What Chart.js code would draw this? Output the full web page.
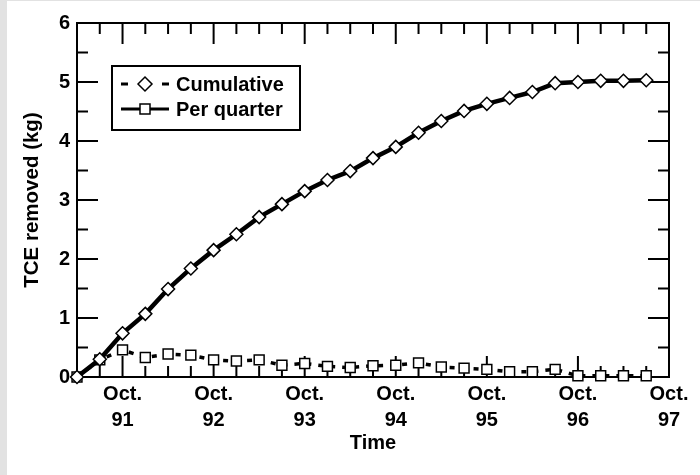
<!DOCTYPE html>
<html>
<head>
<meta charset="utf-8">
<script src="https://cdn.jsdelivr.net/npm/chart.js@4.4.0/dist/chart.umd.min.js"></script>
<style>
  html, body { margin: 0; padding: 0; background: #fff; }
  #wrap { width: 700px; height: 475px; }
</style>
</head>
<body>
<div id="wrap"><canvas id="tceChart" width="700" height="475"></canvas></div>
<script>
// quarters from Apr 1991 to Oct 1997 (x axis runs over all of them)
var quarters = ['Apr 91', 'Jul 91', 'Oct 91', 'Jan 92', 'Apr 92', 'Jul 92', 'Oct 92', 'Jan 93', 'Apr 93',
  'Jul 93', 'Oct 93', 'Jan 94', 'Apr 94', 'Jul 94', 'Oct 94', 'Jan 95', 'Apr 95', 'Jul 95', 'Oct 95',
  'Jan 96', 'Apr 96', 'Jul 96', 'Oct 96', 'Jan 97', 'Apr 97', 'Jul 97', 'Oct 97'];

var cumulative = [0, 0.30, 0.74, 1.07, 1.49, 1.84, 2.15, 2.42, 2.71, 2.93, 3.15, 3.34, 3.49,
  3.71, 3.90, 4.14, 4.34, 4.51, 4.63, 4.73, 4.83, 4.98, 5.00, 5.02, 5.02, 5.03];

var perQuarter = [0, 0.29, 0.46, 0.33, 0.39, 0.37, 0.29, 0.27, 0.29, 0.20, 0.23, 0.18, 0.16,
  0.19, 0.20, 0.24, 0.17, 0.15, 0.13, 0.09, 0.09, 0.13, 0.02, 0.02, 0.02, 0.02];

var yMin = 0, yMax = 6, yMinorStep = 0.5;
var legendNames = ['Cumulative', 'Per quarter'];

var FONT = 'Liberation Sans, Arial, Helvetica, sans-serif';

var pageBg = {
  id: 'pageBg',
  beforeDraw: function(chart) {
    var ctx = chart.ctx;
    ctx.save();
    ctx.fillStyle = '#fff';
    ctx.fillRect(0, 0, chart.width, chart.height);
    ctx.fillStyle = '#e2e2e2';
    ctx.fillRect(0, 0, 7, chart.height);
    ctx.fillRect(0, 0, chart.width, 1);
    ctx.restore();
  }
};

// inward ticks on all four sides + the box
var frame = {
  id: 'frame',
  beforeDatasetsDraw: function(chart) {
    var ctx = chart.ctx, a = chart.chartArea;
    var xs = chart.scales.x, ys = chart.scales.y;
    ctx.save();
    ctx.strokeStyle = '#000';
    ctx.lineWidth = 2;
    ctx.beginPath();
    quarters.forEach(function(q, i) {
      var px = xs.getPixelForValue(i);
      var len = q.indexOf('Oct') === 0 ? 21 : 11;
      ctx.moveTo(px, a.bottom); ctx.lineTo(px, a.bottom - len);
      ctx.moveTo(px, a.top); ctx.lineTo(px, a.top + len);
    });
    for (var v = yMin; v <= yMax; v += yMinorStep) {
      var py = ys.getPixelForValue(v);
      var l = (v % 1 === 0) ? 21 : 11;
      ctx.moveTo(a.left, py); ctx.lineTo(a.left + l, py);
      ctx.moveTo(a.right, py); ctx.lineTo(a.right - l, py);
    }
    ctx.stroke();
    ctx.strokeRect(a.left, a.top, a.right - a.left, a.bottom - a.top);
    ctx.restore();
  }
};

var boxLegend = {
  id: 'boxLegend',
  afterDatasetsDraw: function(chart) {
    var ctx = chart.ctx, a = chart.chartArea;
    var bx = a.left + 35, by = a.top + 43, bw = 188, bh = 64;
    ctx.save();
    ctx.fillStyle = '#fff';
    ctx.fillRect(bx, by, bw, bh);
    ctx.strokeStyle = '#000';
    ctx.lineWidth = 2;
    ctx.strokeRect(bx, by, bw, bh);

    var sx = bx + 9, cx = bx + 33, ex = bx + 57;
    var r1 = by + 18, r2 = by + 43;
    // row 1: dashed with diamond
    ctx.lineWidth = 3;
    ctx.beginPath();
    ctx.moveTo(sx, r1); ctx.lineTo(sx + 7, r1);
    ctx.moveTo(ex - 7, r1); ctx.lineTo(ex, r1);
    ctx.stroke();
    ctx.lineWidth = 1.5;
    ctx.beginPath();
    ctx.moveTo(cx - 7, r1); ctx.lineTo(cx, r1 - 7); ctx.lineTo(cx + 7, r1); ctx.lineTo(cx, r1 + 7);
    ctx.closePath();
    ctx.fill(); ctx.stroke();
    // row 2: solid with square
    ctx.lineWidth = 3;
    ctx.beginPath();
    ctx.moveTo(sx, r2); ctx.lineTo(ex, r2);
    ctx.stroke();
    ctx.lineWidth = 1.5;
    ctx.fillRect(cx - 5, r2 - 5, 10, 10);
    ctx.strokeRect(cx - 5, r2 - 5, 10, 10);

    ctx.fillStyle = '#000';
    ctx.font = 'bold 20px ' + FONT;
    ctx.textBaseline = 'middle';
    ctx.fillText(legendNames[0], bx + 64, r1 + 1);
    ctx.fillText(legendNames[1], bx + 64, r2 + 1);
    ctx.restore();
  }
};

var ctx = document.getElementById('tceChart').getContext('2d');

var tceChart = new Chart(ctx, {
  type: 'line',
  data: {
    labels: quarters,
    datasets: [{
      label: legendNames[0],
      data: cumulative,
      borderColor: '#000',
      borderWidth: 4.5,
      pointStyle: 'rectRot',
      pointRadius: 6.5,
      pointBackgroundColor: '#fff',
      pointBorderColor: '#000',
      pointBorderWidth: 1.5,
      tension: 0,
      clip: false
    }, {
      label: legendNames[1],
      data: perQuarter,
      borderColor: '#000',
      borderWidth: 3.5,
      borderDash: [5, 7],
      pointStyle: 'rect',
      pointRadius: 7,
      pointBackgroundColor: '#fff',
      pointBorderColor: '#000',
      pointBorderWidth: 1.5,
      tension: 0,
      clip: false
    }]
  },
  options: {
    responsive: false,
    animation: false,
    devicePixelRatio: 1,
    layout: { padding: { top: 23, right: 31, left: 0, bottom: 0 } },
    plugins: {
      legend: { display: false },
      tooltip: { enabled: false }
    },
    scales: {
      x: {
        type: 'category',
        offset: false,
        grid: { display: false, drawTicks: false },
        border: { display: false },
        ticks: {
          autoSkip: false,
          maxRotation: 0,
          minRotation: 0,
          padding: 4,
          color: '#000',
          font: { family: FONT, size: 20, weight: 'bold', lineHeight: 1.3 },
          callback: function(value, index) {
            var q = quarters[index];
            if (q.indexOf('Oct') === 0) return ['Oct.', q.split(' ')[1]];
            return '';
          }
        },
        title: {
          display: true,
          text: 'Time',
          color: '#000',
          font: { family: FONT, size: 20, weight: 'bold', lineHeight: 1.2 },
          padding: { top: 0, bottom: 20 }
        },
        afterFit: function(scale) { scale.height = 98; }
      },
      y: {
        min: yMin,
        max: yMax,
        grid: { display: false, drawTicks: false },
        border: { display: false },
        ticks: {
          stepSize: 1,
          padding: 7,
          color: '#000',
          font: { family: FONT, size: 20, weight: 'bold' }
        },
        title: {
          display: true,
          text: 'TCE removed (kg)',
          color: '#000',
          font: { family: FONT, size: 20.5, weight: 'bold', lineHeight: 1.2 },
          padding: { top: 20, bottom: 0 }
        },
        afterFit: function(scale) { scale.width = 77; }
      }
    }
  },
  plugins: [pageBg, frame, boxLegend]
});
</script>
</body>
</html>
